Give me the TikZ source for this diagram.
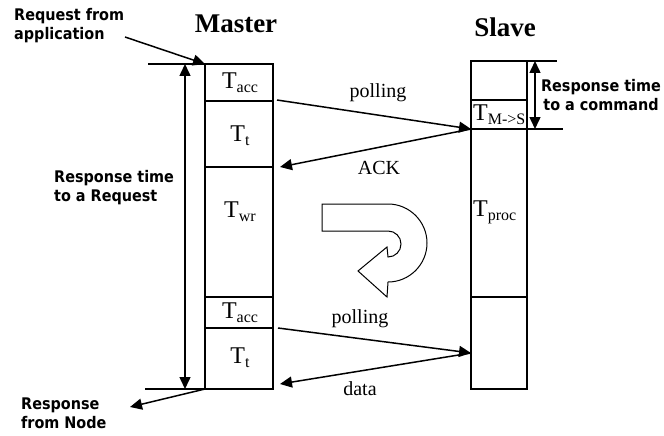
\documentclass[tikz,border=0pt]{standalone}
\usepackage{fontspec}
\setmainfont{Liberation Serif}
\newfontfamily\labfont{DejaVu Sans Condensed}
\usetikzlibrary{arrows.meta}
\tikzset{
  cell/.style={draw, line width=1.2pt, minimum width=#1, inner sep=0pt, outer sep=0pt},
  tlab/.style={inner sep=0pt, font=\fontsize{24}{24}\selectfont},
  msg/.style={inner sep=0pt, font=\fontsize{20}{20}\selectfont},
  title/.style={inner sep=0pt, font=\fontsize{27}{27}\selectfont\bfseries},
  side/.style={inner sep=0pt, font=\fontsize{16}{19}\selectfont\labfont\bfseries},
  arr/.style={line width=1.5pt, -{Triangle[length=12pt,width=11pt]}},
  darr/.style={line width=1.5pt, {Triangle[length=12pt,width=11pt]}-{Triangle[length=12pt,width=11pt]}},
  rule/.style={line width=1.2pt},
}
\newcommand{\Tsub}[1]{T\raisebox{-4pt}{\fontsize{16}{16}\selectfont #1}}
\begin{document}
\begin{tikzpicture}[x=1pt,y=-1pt]
\useasboundingbox (0,0) rectangle (664,436);
% titles
\node[title] (mt) at (236,24) {Master};
\node[title] (st) at (505,27) {Slave};
% master cells
\node[cell=68pt, minimum height=37pt] (m1) at (239,82.5) {};
\node[cell=68pt, minimum height=66pt] (m2) at (239,134) {};
\node[cell=68pt, minimum height=130pt] (m3) at (239,232) {};
\node[cell=68pt, minimum height=31pt] (m4) at (239,312.5) {};
\node[cell=68pt, minimum height=61pt] (m5) at (239,358.5) {};
\node[tlab] (l1) at (240,83) {\Tsub{acc}};
\node[tlab] (l2) at (240,136) {\Tsub{t}};
\node[tlab] (l3) at (240,212) {\Tsub{wr}};
\node[tlab] (l4) at (240,313) {\Tsub{acc}};
\node[tlab] (l5) at (240,358) {\Tsub{t}};
% slave cells
\node[cell=56pt, minimum height=39pt] (s1) at (499,80.5) {};
\node[cell=56pt, minimum height=29pt] (s2) at (499,114.5) {};
\node[cell=56pt, minimum height=168pt] (s3) at (499,213) {};
\node[cell=56pt, minimum height=92pt] (s4) at (499,343) {};
\node[tlab, anchor=west] (ls2) at (473,115) {\Tsub{M->S}};
\node[tlab, anchor=west] (ls3) at (473,212) {\Tsub{proc}};
% extension rules
\coordinate (a1) at (148,64);
\coordinate (a2) at (145,389);
\coordinate (b1) at (557,61);
\coordinate (b2) at (563,129);
\draw[rule] (a1) -- (m1.north west);
\draw[rule] (a2) -- (m5.south west);
\draw[rule] (s1.north east) -- (b1);
\draw[rule] (s2.south east) -- (b2);
% response time arrows
\coordinate (r1) at (185,64);
\coordinate (r2) at (185,389);
\draw[darr] (r1) -- (r2);
\coordinate (c1) at (535,61);
\coordinate (c2) at (535,129);
\draw[darr] (c1) -- (c2);
% side labels
\node[side, anchor=north west, align=left] (req) at (14,8) {Request from\\application};
\node[side, anchor=north west, align=left] (resp) at (21,398) {Response\\from Node};
\node[side, anchor=west, align=left] (rtr) at (54,188) {Response time\\to a Request};
\node[side, align=center] (rtc) at (601,95) {Response time\\to a command};
\coordinate (q1) at (125,37);
\coordinate (q2) at (130,407);
\draw[arr] (q1) -- (m1.north west);
\draw[arr] (m5.south west) -- (q2);
% messages
\coordinate (p1) at (277,100);
\coordinate (p2) at (280,167);
\coordinate (p3) at (278,328);
\coordinate (p4) at (280,384);
\coordinate (sa) at (471,129);
\coordinate (sb) at (471,353);
\draw[arr] (p1) -- (sa);
\draw[arr] (sa) -- (p2);
\draw[arr] (p3) -- (sb);
\draw[arr] (sb) -- (p4);
\node[msg] (pl1) at (378,93) {polling};
\node[msg] (ack) at (379,168) {ACK};
\node[msg] (pl2) at (360,319) {polling};
\node[msg] (dat) at (360,389) {data};
% U-turn arrow
\draw[line width=1pt, fill=white] (322,204) -- (388,204)
  .. controls (409.5,204) and (427,221.5) .. (427,243)
  .. controls (427,264.5) and (409.5,282) .. (388,282)
  -- (387,297) -- (358,271) -- (387,247) -- (388,257)
  .. controls (395.2,257) and (401,251.2) .. (401,244)
  .. controls (401,236.8) and (395.2,231) .. (388,231)
  -- (322,231) -- cycle;
\end{tikzpicture}
\end{document}
